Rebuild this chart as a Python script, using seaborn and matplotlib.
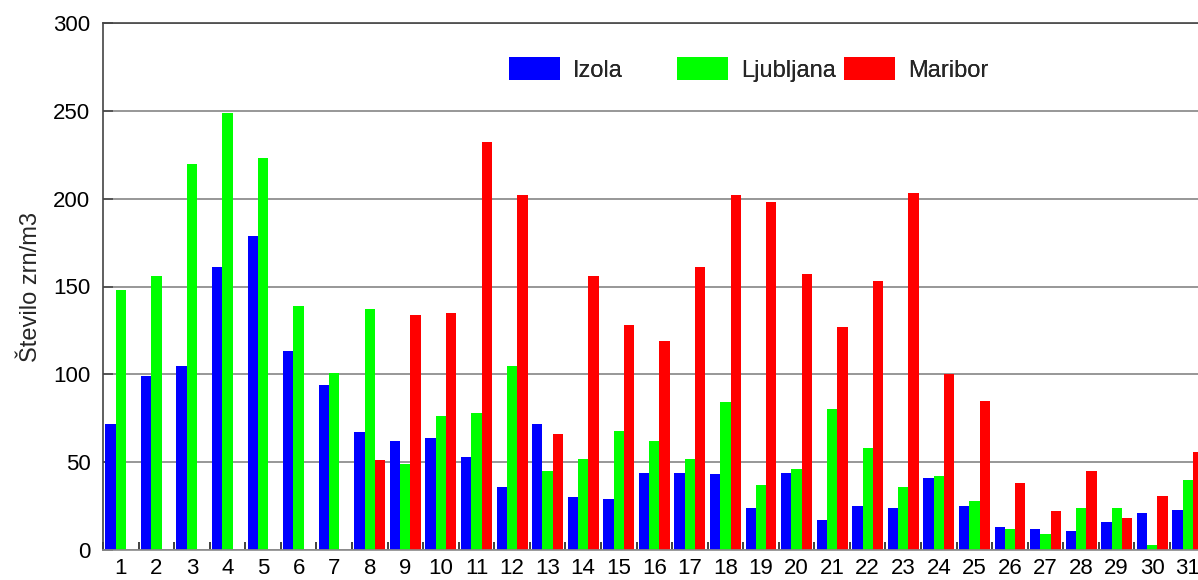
import numpy as np
import pandas as pd
import matplotlib
matplotlib.use("Agg")
import matplotlib.pyplot as plt
import seaborn as sns

# Daily pollen counts (grains per m3) for the three measuring stations
days = [str(d) for d in range(1, 32)]
izola = [72, 99, 105, 161, 179, 113, 94, 67, 62, 64, 53, 36, 72, 30, 29, 44,
         44, 43, 24, 44, 17, 25, 24, 41, 25, 13, 12, 11, 16, 21, 23]
ljubljana = [148, 156, 220, 249, 223, 139, 101, 137, 49, 76, 78, 105, 45, 52, 68, 62,
             52, 84, 37, 46, 80, 58, 36, 42, 28, 12, 9, 24, 24, 3, 40]
maribor = [np.nan] * 7 + [51, 134, 135, 232, 202, 66, 156, 128, 119, 161, 202, 198,
                          157, 127, 153, 203, 100, 85, 38, 22, 45, 18, 31, 56]
stations = ["Izola", "Ljubljana", "Maribor"]
colors = ["#0000FF", "#00FF00", "#FF0000"]
yticks = [0, 50, 100, 150, 200, 250, 300]
ylabel = "Število zrn/m3"

df = pd.DataFrame({
    "dan": days * 3,
    "postaja": ["Izola"] * 31 + ["Ljubljana"] * 31 + ["Maribor"] * 31,
    "vrednost": izola + ljubljana + maribor,
})

sns.set_theme(style="white")
plt.rcParams["font.family"] = ["Liberation Sans", "DejaVu Sans"]

W, H = 1198, 580
fig = plt.figure(figsize=(W / 100, H / 100), dpi=100)
ax = fig.add_axes([103 / W, 30 / H, (1205.6 - 103) / W, (550 - 23) / H])

sns.barplot(data=df, x="dan", y="vrednost", hue="postaja", order=days,
            hue_order=stations, palette=colors, width=0.87, saturation=1,
            linewidth=0, ax=ax, legend=True)

ax.set_xlim(-0.5, len(days) - 0.5)
ax.set_ylim(0, 300)
ax.set_yticks(yticks)
ax.yaxis.grid(True, color="#7a7a7a", linewidth=1.1)
ax.xaxis.grid(False)
ax.set_axisbelow(True)

# category labels centred under each group, tick marks between groups
ax.set_xticks(range(len(days)))
ax.set_xticklabels(days)
ax.set_xticks(np.arange(-0.5, len(days), 1.0), minor=True)
ax.tick_params(axis="x", which="major", length=0, pad=6, labelsize=16, colors="black")
ax.tick_params(axis="x", which="minor", direction="in", length=6, width=1.3,
               color="#333333", bottom=True)
ax.tick_params(axis="y", which="major", direction="in", length=7, width=1.1,
               color="#444444", pad=9, labelsize=16, labelcolor="black", left=True)

ax.set_xlabel("")
ax.set_ylabel(ylabel, fontsize=17, labelpad=8)

for side in ["top", "left"]:
    ax.spines[side].set_color("#444444")
    ax.spines[side].set_linewidth(1.2)
ax.spines["bottom"].set_color("#8a8a8a")
ax.spines["bottom"].set_linewidth(1.2)
ax.spines["right"].set_visible(False)

# legend: one entry per station, laid out in a row above the bars
handles, labels = ax.get_legend_handles_labels()
ax.get_legend().remove()
legend_x = [509, 677, 844]
for h, lab, lx in zip(handles, labels, legend_x):
    leg = fig.legend([h], [lab], loc="center left",
                     bbox_to_anchor=(lx / W, 1 - 69.5 / H),
                     frameon=False, fontsize=17, borderpad=0, borderaxespad=0,
                     handlelength=2.16, handleheight=1.14, handletextpad=0.55)
    fig.add_artist(leg)

fig.savefig("out.png", dpi=100)
